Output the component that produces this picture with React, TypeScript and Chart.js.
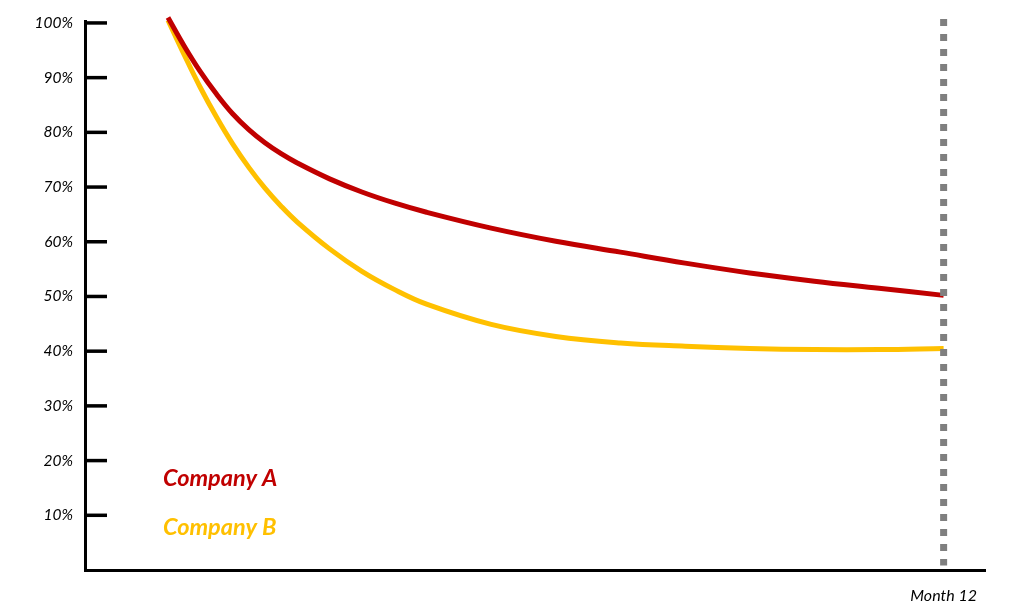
import { useEffect, useRef } from "react";
import { Chart, registerables } from "chart.js";

Chart.register(...registerables);

// Months since start (quarter steps early on, where the curves bend most)
const months = [0, 0.25, 0.5, 0.75, 1, 1.25, 1.5, 1.75, 2, 2.5, 3, 3.5, 4, 5, 6, 7, 8, 9, 10, 11, 12];
// Share retained, in percent
const companyA = [101, 95.8, 91.1, 87.0, 83.4, 80.5, 78.1, 76.1, 74.4, 71.5, 69.1, 67.1, 65.4, 62.5, 60.1, 58.1, 56.1, 54.3, 52.8, 51.5, 50.2];
const companyB = [100.5, 94.2, 88.2, 82.8, 77.9, 73.6, 69.8, 66.5, 63.6, 58.7, 54.6, 51.3, 48.6, 44.9, 42.7, 41.5, 40.9, 40.5, 40.3, 40.3, 40.5];

const seriesNames = ["Company A", "Company B"];
const seriesColors = ["#C00000", "#FFC000"];

const yTickValues = [10, 20, 30, 40, 50, 60, 70, 80, 90, 100];
const xTickValues = [12];
const xTickLabels = ["Month 12"];

// Vertical marker at the final month
const markerMonth = 12;
const markerSpan = [100.7, 0.8];

const FONT = "Lato, 'Open Sans', sans-serif";

// Short tick marks drawn inward from the y axis line
const innerTicks = {
  id: "innerTicks",
  afterDatasetsDraw(chart: any) {
    const { ctx, chartArea, scales } = chart;
    const y = scales.y;
    ctx.save();
    ctx.strokeStyle = "#000";
    ctx.lineWidth = 3.5;
    ctx.lineCap = "butt";
    yTickValues.forEach((v) => {
      const py = y.getPixelForValue(v);
      ctx.beginPath();
      ctx.moveTo(chartArea.left, py);
      ctx.lineTo(chartArea.left + 22, py);
      ctx.stroke();
    });
    ctx.restore();
  },
};

// Coloured series names in the lower left of the plot
const seriesCaptions = {
  id: "seriesCaptions",
  afterDraw(chart: any) {
    const { ctx } = chart;
    ctx.save();
    ctx.font = `italic bold 23.5px ${FONT}`;
    ctx.textAlign = "left";
    ctx.textBaseline = "alphabetic";
    seriesNames.forEach((name, i) => {
      ctx.fillStyle = seriesColors[i];
      ctx.fillText(name, 163, 486 + i * 49);
    });
    ctx.restore();
  },
};

export default function App() {
  const canvasRef = useRef<HTMLCanvasElement | null>(null);

  useEffect(() => {
    if (!canvasRef.current) return;
    const line = (values: number[], color: string, label: string) => ({
      label,
      data: months.map((m, i) => ({ x: m, y: values[i] })),
      borderColor: color,
      backgroundColor: color,
      borderWidth: 5,
      pointRadius: 0,
      tension: 0.4,
      borderCapStyle: "butt" as const,
      clip: false as const,
    });

    const chart = new Chart(canvasRef.current, {
      type: "line",
      data: {
        datasets: [
          {
            label: "Month 12 marker",
            data: markerSpan.map((v) => ({ x: markerMonth, y: v })),
            borderColor: "#7F7F7F",
            borderWidth: 7,
            borderDash: [7, 8],
            borderCapStyle: "butt",
            pointRadius: 0,
            clip: false,
          },
          line(companyA, seriesColors[0], seriesNames[0]),
          line(companyB, seriesColors[1], seriesNames[1]),
        ],
      },
      options: {
        responsive: false,
        animation: false,
        devicePixelRatio: 1,
        layout: { padding: { top: 21, right: 27, left: 0, bottom: 0 } },
        plugins: {
          legend: { display: false },
          tooltip: { enabled: false },
        },
        scales: {
          x: {
            type: "linear",
            min: -1.284,
            max: 12.64,
            afterFit: (s: any) => {
              s.height = 41;
            },
            afterBuildTicks: (s: any) => {
              s.ticks = xTickValues.map((v) => ({ value: v }));
            },
            ticks: {
              autoSkip: false,
              maxRotation: 0,
              padding: 16,
              color: "#000",
              font: { family: FONT, size: 16, style: "italic" },
              callback: (v: any) => {
                const i = xTickValues.indexOf(Number(v));
                return i >= 0 ? xTickLabels[i] : "";
              },
            },
            grid: { display: true, drawOnChartArea: false, drawTicks: false },
            border: { display: true, color: "#000", width: 3 },
          },
          y: {
            type: "linear",
            min: 0,
            max: 100.3,
            afterFit: (s: any) => {
              s.width = 85;
            },
            afterBuildTicks: (s: any) => {
              s.ticks = yTickValues.map((v) => ({ value: v }));
            },
            ticks: {
              padding: 12,
              color: "#000",
              font: { family: FONT, size: 15.5, style: "italic" },
              callback: (v: any) => `${v}%`,
            },
            grid: { display: true, drawOnChartArea: false, drawTicks: false },
            border: { display: true, color: "#000", width: 3 },
          },
        },
      },
      plugins: [innerTicks, seriesCaptions],
    });
    return () => chart.destroy();
  }, []);

  return (
    <canvas
      ref={canvasRef}
      width={1012}
      height={611}
      style={{ position: "absolute", left: 0, top: 0, display: "block", background: "#fff" }}
    />
  );
}
